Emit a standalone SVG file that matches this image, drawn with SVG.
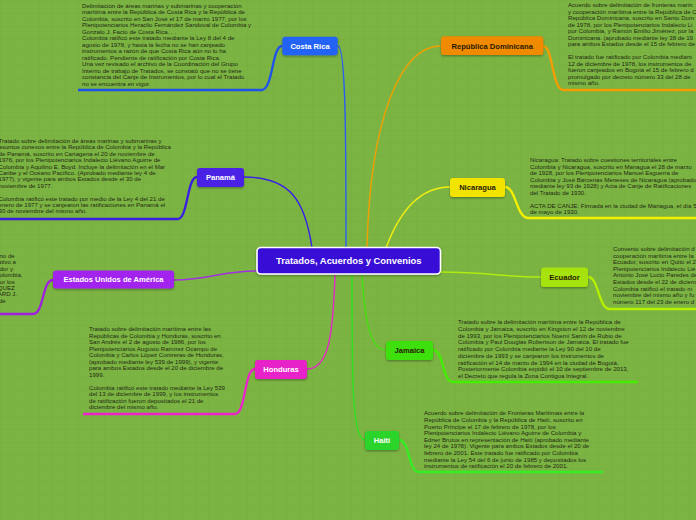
<svg xmlns="http://www.w3.org/2000/svg" width="696" height="520" viewBox="0 0 696 520">
<defs>
<pattern id="grid" width="13" height="13" patternUnits="userSpaceOnUse">
<path d="M13 0H0V13" fill="none" stroke="#72aa3c" stroke-width="0.7"/>
</pattern>
<filter id="sh" x="-20%" y="-20%" width="140%" height="160%">
<feDropShadow dx="0" dy="1.2" stdDeviation="1" flood-color="#000" flood-opacity="0.35"/>
</filter>
</defs>
<style>
.t{font-family:"Liberation Sans",Arial,sans-serif;font-size:6.1px;fill:#1e2a12}
.n{font-family:"Liberation Sans",Arial,sans-serif;font-size:7.6px;font-weight:bold;text-anchor:middle}
.w{fill:#fff}
.d{fill:#2a1a00}
.c{fill:none;stroke-width:1.4}
.u{fill:none;stroke-width:2.3}
</style>
<rect width="696" height="520" fill="#7cb443"/>
<rect width="696" height="520" fill="url(#grid)"/>

<g id="connectors">
<path class="c" stroke="#2a5ef2" d="M346,248 C346,150 346,46 338,46"/>
<path class="c" stroke="#f0a000" d="M367,248 C370,120 400,46 441,46"/>
<path class="c" stroke="#3a1fe6" d="M244,177 C290,177 305,200 312,248"/>
<path class="c" stroke="#f0ee10" d="M386,248 C400,210 420,187 450,187"/>
<path class="c" stroke="#a030e0" d="M257,271 C220,271 210,280 174,280"/>
<path class="c" stroke="#b0ec10" d="M440,272 C490,272 500,277 541,277"/>
<path class="c" stroke="#e626c8" d="M335,275 C333,330 330,369 307,369"/>
<path class="c" stroke="#44e010" d="M362,275 C365,320 370,350 386,350"/>
<path class="c" stroke="#2ee020" d="M352,275 C352,380 352,440 365,440"/>

<path class="u" stroke="#1e52ea" d="M282,46 C272,46 273,89 262,90 L78,90"/>
<path class="u" stroke="#f59c00" d="M543,46 C553,46 552,89 563,90 L696,90"/>
<path class="u" stroke="#3a1fe0" d="M197,177 C187,177 188,218 178,219 L0,219"/>
<path class="u" stroke="#f5f000" d="M505,187 C516,187 516,217 528,218 L696,218"/>
<path class="u" stroke="#a020e0" d="M53,280 C42,280 44,314 33,314 L0,314"/>
<path class="u" stroke="#b4f000" d="M588,277 C599,277 598,309 610,309 L696,309"/>
<path class="u" stroke="#ee22cc" d="M255,369 C244,369 246,414 235,414 L83,414"/>
<path class="u" stroke="#44ee00" d="M433,350 C444,350 442,382 453,382 L638,382"/>
<path class="u" stroke="#33ee22" d="M399,440 C410,440 408,472 419,472 L603,472"/>
</g>

<g id="central">
<rect x="257" y="247.5" width="183.5" height="26.5" rx="4" fill="#3711d6" stroke="#fff" stroke-width="1.6" filter="url(#sh)"/>
<text class="n w" x="348.7" y="264.3" style="font-size:9.4px">Tratados, Acuerdos y Convenios</text>
</g>

<g id="costa-rica">
<rect x="282.3" y="36.7" width="55.4" height="18.5" rx="3" fill="#2463f6" filter="url(#sh)"/>
<text class="n w" x="310" y="48.7">Costa Rica</text>
<text class="t"><tspan x="82" y="7.5">Delimitación de áreas marinas y submarinas y cooperación</tspan><tspan x="82" y="14">marítima entre la República de Costa Rica y la República de</tspan><tspan x="82" y="20.5">Colombia, suscrito en San José el 17 de marzo 1977, por los</tspan><tspan x="82" y="27">Plenipotenciarios Heraclio Fernández Sandoval de Colombia y</tspan><tspan x="82" y="33.5">Gonzalo J. Facio de Costa Rica. . .</tspan><tspan x="82" y="40">Colombia ratificó este tratado mediante la Ley 8 del 4 de</tspan><tspan x="82" y="46.5">agosto de 1978, y hasta la fecha no se han canjeado</tspan><tspan x="82" y="53">instrumentos a razón de que Costa Rica aún no lo ha</tspan><tspan x="82" y="59.5">ratificado. Pendiente de ratificación por Costa Rica.</tspan><tspan x="82" y="66">Una vez revisado el archivo de la Coordinación del Grupo</tspan><tspan x="82" y="72.5">Interno de trabajo de Tratados, se constató que no se tiene</tspan><tspan x="82" y="79">constancia del Canje de Instrumentos, por lo cual el Tratado</tspan><tspan x="82" y="85.5">no se encuentra en vigor.</tspan></text>
</g>

<g id="republica-dominicana">
<rect x="441" y="36.2" width="102.3" height="18.8" rx="3" fill="#f08a00" filter="url(#sh)"/>
<text class="n d" x="492.2" y="48.7">República Dominicana</text>
<text class="t"><tspan x="568" y="7">Acuerdo sobre delimitación de fronteras marin</tspan><tspan x="568" y="13.5">y cooperación marítima entre la República de C</tspan><tspan x="568" y="20">República Dominicana, suscrito en Santo Dom</tspan><tspan x="568" y="26.5">de 1978, por los Plenipotenciarios Indalecio Li</tspan><tspan x="568" y="33">por Colombia, y Ramón Emilio Jiménez, por la</tspan><tspan x="568" y="39.5">Dominicana. (aprobado mediante ley 38 de 19</tspan><tspan x="568" y="46">para ambos Estados desde el 15 de febrero de</tspan><tspan x="568" y="59">El tratado fue ratificado por Colombia mediant</tspan><tspan x="568" y="65.5">12 de diciembre de 1978, los instrumentos de</tspan><tspan x="568" y="72">fueron canjeados en Bogotá el 15 de febrero d</tspan><tspan x="568" y="78.5">promulgado por decreto número 33 del 28 de</tspan><tspan x="568" y="85">mismo año.</tspan></text>
</g>

<g id="panama">
<rect x="197" y="168" width="47" height="19" rx="3" fill="#4a20e6" filter="url(#sh)"/>
<text class="n w" x="220.5" y="180.3">Panamá</text>
<text class="t"><tspan x="-1.5" y="143">Tratado sobre delimitación de áreas marinas y submarinas y</tspan><tspan x="-1.5" y="149.4">asuntos conexos entre la República de Colombia y la República</tspan><tspan x="-1.5" y="155.8">de Panamá, suscrito en Cartagena el 20 de noviembre de</tspan><tspan x="-1.5" y="162.2">1976, por los Plenipotenciarios Indalecio Liévano Aguirre de</tspan><tspan x="-1.5" y="168.6">Colombia y Aquilino E. Boyd. Incluye la delimitación en el Mar</tspan><tspan x="-1.5" y="175">Caribe y el Océano Pacífico. (Aprobado mediante ley 4 de</tspan><tspan x="-1.5" y="181.4">1977), y vigente para ambos Estados desde el 30 de</tspan><tspan x="-1.5" y="187.8">noviembre de 1977.</tspan><tspan x="-1.5" y="200.6">Colombia ratificó este tratado por medio de la Ley 4 del 21 de</tspan><tspan x="-1.5" y="207">enero de 1977 y se canjearon las ratificaciones en Panamá el</tspan><tspan x="-1.5" y="213.4">30 de noviembre del mismo año.</tspan></text>
</g>

<g id="nicaragua">
<rect x="450" y="178" width="55" height="19" rx="3" fill="#f2e400" filter="url(#sh)"/>
<text class="n d" x="477.5" y="190.3">Nicaragua</text>
<text class="t"><tspan x="530" y="162">Nicaragua: Tratado sobre cuestiones territoriales entre</tspan><tspan x="530" y="168.5">Colombia y Nicaragua, suscrito en Managua el 28 de marzo</tspan><tspan x="530" y="175">de 1928, por los Plenipotenciarios Manuel Esguerra de</tspan><tspan x="530" y="181.5">Colombia y José Bárcenas Meneses de Nicaragua (aprobado</tspan><tspan x="530" y="188">mediante ley 93 de 1928) y Acta de Canje de Ratificaciones</tspan><tspan x="530" y="194.5">del Tratado de 1930.</tspan><tspan x="530" y="207.5">ACTA DE CANJE: Firmada en la ciudad de Managua, el día 5</tspan><tspan x="530" y="214">de mayo de 1930.</tspan></text>
</g>

<g id="estados-unidos">
<rect x="53" y="270.5" width="121" height="18" rx="3" fill="#a223ee" filter="url(#sh)"/>
<text class="n w" x="113.5" y="282.4">Estados Unidos de América</text>
<text class="t" text-anchor="end"><tspan x="14.7" y="258">ierno de</tspan><tspan x="16" y="264.4">Relativo a</tspan><tspan x="13" y="270.8">cuador y</tspan><tspan x="22.5" y="277.2">olombia,</tspan><tspan x="14.7" y="283.6">or los</tspan><tspan x="14.7" y="290">QUEZ</tspan><tspan x="17" y="296.4">HARD J.</tspan><tspan x="5.7" y="302.8">de</tspan></text>
</g>

<g id="ecuador">
<rect x="541" y="267.5" width="47" height="19.5" rx="3" fill="#a6e20e" filter="url(#sh)"/>
<text class="n d" x="564.5" y="280">Ecuador</text>
<text class="t"><tspan x="613" y="251">Convenio sobre delimitación d</tspan><tspan x="613" y="257.6">cooperación marítima entre la</tspan><tspan x="613" y="264.2">Ecuador, suscrito en Quito el 2</tspan><tspan x="613" y="270.8">Plenipotenciarios Indalecio Lié</tspan><tspan x="613" y="277.4">Antonio José Lucio Paredes de</tspan><tspan x="613" y="284">Estados desde el 22 de diciem</tspan><tspan x="613" y="290.6">Colombia ratificó el tratado m</tspan><tspan x="613" y="297.2">noviembre del mismo año y fu</tspan><tspan x="613" y="303.8">número 117 del 23 de enero d</tspan></text>
</g>

<g id="honduras">
<rect x="255" y="360" width="52" height="19" rx="3" fill="#e620c8" filter="url(#sh)"/>
<text class="n w" x="281" y="372.3">Honduras</text>
<text class="t"><tspan x="89" y="331">Tratado sobre delimitación marítima entre las</tspan><tspan x="89" y="337.5">Repúblicas de Colombia y Honduras, suscrito en</tspan><tspan x="89" y="344">San Andrés el 2 de agosto de 1986, por los</tspan><tspan x="89" y="350.5">Plenipotenciarios Augusto Ramírez Ocampo de</tspan><tspan x="89" y="357">Colombia y Carlos López Contreras de Honduras,</tspan><tspan x="89" y="363.5">(aprobado mediante ley 539 de 1999), y vigente</tspan><tspan x="89" y="370">para ambos Estados desde el 20 de diciembre de</tspan><tspan x="89" y="376.5">1999.</tspan><tspan x="89" y="389.5">Colombia ratificó este tratado mediante la Ley 539</tspan><tspan x="89" y="396">del 13 de diciembre de 1999, y los instrumentos</tspan><tspan x="89" y="402.5">de ratificación fueron depositados el 21 de</tspan><tspan x="89" y="409">diciembre del mismo año.</tspan></text>
</g>

<g id="jamaica">
<rect x="386" y="341" width="47" height="19" rx="3" fill="#3ddf10" filter="url(#sh)"/>
<text class="n d" x="409.5" y="353.3">Jamaica</text>
<text class="t"><tspan x="458" y="324.3">Tratado sobre la delimitación marítima entre la República de</tspan><tspan x="458" y="331">Colombia y Jamaica, suscrito en Kingston el 12 de noviembre</tspan><tspan x="458" y="337.7">de 1993, por los Plenipotenciarios Noemí Sanín de Rubio de</tspan><tspan x="458" y="344.4">Colombia y Paul Douglas Robertson de Jamaica. El tratado fue</tspan><tspan x="458" y="351.1">ratificado por Colombia mediante la Ley 90 del 10 de</tspan><tspan x="458" y="357.8">diciembre de 1993 y se canjearon los instrumentos de</tspan><tspan x="458" y="364.5">ratificación el 14 de marzo de 1994 en la ciudad de Bogotá.</tspan><tspan x="458" y="371.2">Posteriormente Colombia expidió el 10 de septiembre de 2013,</tspan><tspan x="458" y="377.9">el Decreto que regula la Zona Contigua Integral.</tspan></text>
</g>

<g id="haiti">
<rect x="365" y="431" width="34" height="19" rx="3" fill="#2ad42a" filter="url(#sh)"/>
<text class="n w" x="382" y="443.3">Haití</text>
<text class="t"><tspan x="424" y="415.3">Acuerdo sobre delimitación de Fronteras Marítimas entre la</tspan><tspan x="424" y="421.9">República de Colombia y la República de Haití, suscrito en</tspan><tspan x="424" y="428.5">Puerto Príncipe el 17 de febrero de 1978, por los</tspan><tspan x="424" y="435.1">Plenipotenciarios Indalecio Liévano Aguirre de Colombia y</tspan><tspan x="424" y="441.7">Edner Brutus en representación de Haití (aprobado mediante</tspan><tspan x="424" y="448.3">ley 24 de 1978). Vigente para ambos Estados desde el 20 de</tspan><tspan x="424" y="454.9">febrero de 2001. Este tratado fue ratificado por Colombia</tspan><tspan x="424" y="461.5">mediante la Ley 54 del 6 de junio de 1985 y depositados los</tspan><tspan x="424" y="468.1">instrumentos de ratificación el 20 de febrero de 2001.</tspan></text>
</g>
</svg>
